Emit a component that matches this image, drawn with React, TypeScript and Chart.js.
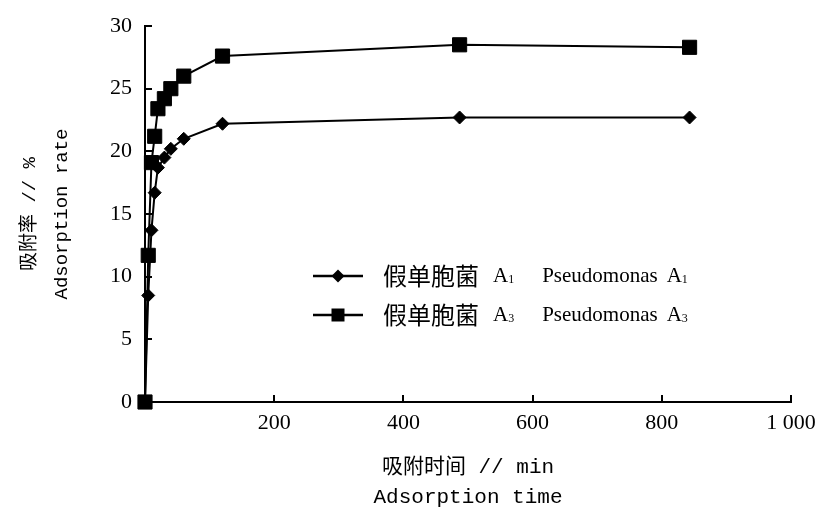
import React, { useEffect, useRef } from 'react';
import { Chart, registerables } from 'chart.js';

Chart.register(...registerables);

// ---- data ----
const timeMin = [0, 5, 10, 15, 20, 30, 40, 60, 120, 487, 843];
const rateA1 = [0, 8.5, 13.7, 16.7, 18.7, 19.5, 20.2, 21.0, 22.2, 22.7, 22.7];
const rateA3 = [0, 11.7, 19.1, 21.2, 23.4, 24.2, 25.0, 26.0, 27.6, 28.5, 28.3];
const xTicks = [0, 200, 400, 600, 800, 1000];
const yTicks = [0, 5, 10, 15, 20, 25, 30];
const seriesCn = ['假单胞菌', '假单胞菌'];
const seriesEn = ['Pseudomonas', 'Pseudomonas'];
const strainSub = ['1', '3'];
const xTitle = ['吸附时间 // min', 'Adsorption time'];
const yTitle = ['吸附率 // %', 'Adsorption rate'];

const fmtThousands = (v: number) =>
  String(v).replace(/\B(?=(\d{3})+(?!\d))/g, ' ');

const insideTicks = {
  id: 'insideTicks',
  beforeDatasetsDraw(chart: any) {
    const { ctx, chartArea, scales } = chart;
    ctx.save();
    ctx.strokeStyle = '#000';
    ctx.lineWidth = 2;
    ctx.beginPath();
    xTicks.forEach((v) => {
      if (v === 0) return;
      const px = Math.round(scales.x.getPixelForValue(v));
      ctx.moveTo(px, chartArea.bottom);
      ctx.lineTo(px, chartArea.bottom - 7);
    });
    yTicks.forEach((v) => {
      if (v === 0) return;
      const py = Math.round(scales.y.getPixelForValue(v));
      ctx.moveTo(chartArea.left, py);
      ctx.lineTo(chartArea.left + 7, py);
    });
    ctx.stroke();
    ctx.restore();
  },
};

const innerLegend = {
  id: 'innerLegend',
  afterDraw(chart: any) {
    const { ctx } = chart;
    const rows = [
      { y: 276, style: 'diamond' },
      { y: 315, style: 'square' },
    ];
    ctx.save();
    ctx.fillStyle = '#000';
    ctx.strokeStyle = '#000';
    ctx.textBaseline = 'middle';
    ctx.textAlign = 'left';
    rows.forEach((r, i) => {
      ctx.lineWidth = 2.5;
      ctx.beginPath();
      ctx.moveTo(313, r.y);
      ctx.lineTo(363, r.y);
      ctx.stroke();
      const cx = 338;
      ctx.beginPath();
      if (r.style === 'diamond') {
        const h = 6.5;
        ctx.moveTo(cx - h, r.y);
        ctx.lineTo(cx, r.y - h);
        ctx.lineTo(cx + h, r.y);
        ctx.lineTo(cx, r.y + h);
        ctx.closePath();
      } else {
        ctx.rect(cx - 6.5, r.y - 6.5, 13, 13);
      }
      ctx.fill();

      let x = 383;
      ctx.font = "24px 'Noto Sans CJK SC'";
      ctx.fillText(seriesCn[i], x, r.y);
      x += ctx.measureText(seriesCn[i]).width + 14;
      ctx.font = "21px 'Liberation Serif'";
      ctx.fillText('A', x, r.y);
      x += ctx.measureText('A').width;
      ctx.font = "12px 'Liberation Serif'";
      ctx.fillText(strainSub[i], x, r.y + 4);
      x += ctx.measureText(strainSub[i]).width + 28;
      ctx.font = "21px 'Liberation Serif'";
      ctx.fillText(seriesEn[i], x, r.y);
      x += ctx.measureText(seriesEn[i]).width + 9;
      ctx.fillText('A', x, r.y);
      x += ctx.measureText('A').width;
      ctx.font = "12px 'Liberation Serif'";
      ctx.fillText(strainSub[i], x, r.y + 4);
    });
    ctx.restore();
  },
};

export default function App() {
  const ref = useRef<HTMLCanvasElement>(null);

  useEffect(() => {
    const tickFont = { family: "'Liberation Serif', 'Noto Sans CJK SC'", size: 22 };
    const chart = new Chart(ref.current as HTMLCanvasElement, {
      type: 'line',
      data: {
        datasets: [
          {
            label: `${seriesCn[0]} A${strainSub[0]} ${seriesEn[0]} A${strainSub[0]}`,
            data: timeMin.map((t, i) => ({ x: t, y: rateA1[i] })),
            borderColor: '#000',
            backgroundColor: '#000',
            pointBackgroundColor: '#000',
            pointBorderColor: '#000',
            borderWidth: 2,
            pointStyle: 'rectRot',
            pointRadius: 6.5,
            pointBorderWidth: 1,
            tension: 0,
            clip: false as any,
          },
          {
            label: `${seriesCn[1]} A${strainSub[1]} ${seriesEn[1]} A${strainSub[1]}`,
            data: timeMin.map((t, i) => ({ x: t, y: rateA3[i] })),
            borderColor: '#000',
            backgroundColor: '#000',
            pointBackgroundColor: '#000',
            pointBorderColor: '#000',
            borderWidth: 2,
            pointStyle: 'rect',
            pointRadius: 10,
            pointBorderWidth: 1,
            tension: 0,
            clip: false as any,
          },
        ],
      },
      options: {
        responsive: false,
        animation: false,
        devicePixelRatio: 1,
        layout: { padding: { left: 0, top: 26, right: 26, bottom: 0 } },
        plugins: {
          legend: { display: false },
          tooltip: { enabled: false },
        },
        scales: {
          x: {
            type: 'linear',
            min: 0,
            max: 1000,
            afterBuildTicks: (s: any) => {
              s.ticks = xTicks.map((v) => ({ value: v }));
            },
            afterFit: (s: any) => {
              s.height = 114;
              s.paddingRight = 0;
              s.paddingLeft = 0;
            },
            ticks: {
              autoSkip: false,
              maxRotation: 0,
              padding: 8,
              color: '#000',
              font: tickFont,
              callback: (v: any) => (Number(v) === 0 ? '' : fmtThousands(Number(v))),
            },
            grid: { display: false, drawTicks: false },
            border: { display: true, color: '#000', width: 2 },
            title: {
              display: true,
              text: xTitle,
              color: '#000',
              font: { family: "'Liberation Mono', 'Noto Sans CJK SC'", size: 21, lineHeight: 30 / 21 },
              padding: { top: 0, bottom: 4 },
            },
          },
          y: {
            type: 'linear',
            min: 0,
            max: 30,
            afterBuildTicks: (s: any) => {
              s.ticks = yTicks.map((v) => ({ value: v }));
            },
            afterFit: (s: any) => {
              s.width = 145;
              s.paddingTop = 0;
              s.paddingBottom = 0;
            },
            ticks: {
              autoSkip: false,
              padding: 13,
              color: '#000',
              font: tickFont,
            },
            grid: { display: false, drawTicks: false },
            border: { display: true, color: '#000', width: 2 },
            title: {
              display: true,
              text: yTitle,
              color: '#000',
              font: { family: "'Liberation Mono', 'Noto Sans CJK SC'", size: 19, lineHeight: 32 / 19 },
              padding: { top: 14, bottom: 0 },
            },
          },
        },
      } as any,
      plugins: [insideTicks, innerLegend],
    });
    return () => chart.destroy();
  }, []);

  return (
    <canvas
      ref={ref}
      width={817}
      height={516}
      style={{ position: 'absolute', left: 0, top: 0, width: 817, height: 516, background: '#fff' }}
    />
  );
}
